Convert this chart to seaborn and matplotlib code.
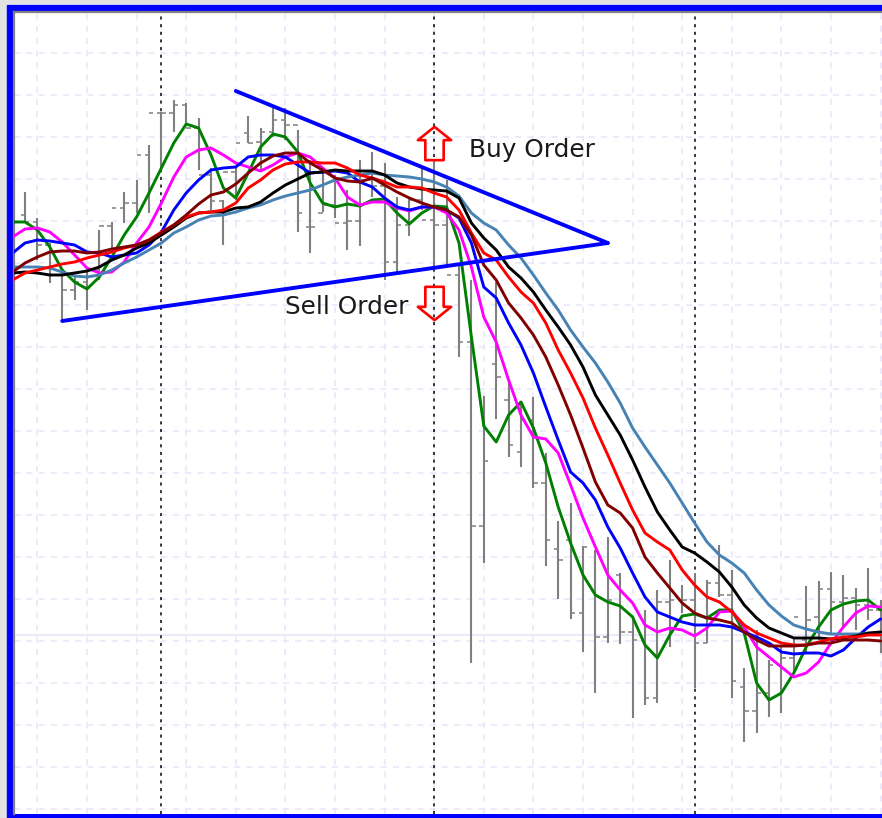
import numpy as np
import pandas as pd
import matplotlib
matplotlib.use("Agg")
import matplotlib.pyplot as plt
from matplotlib.patches import Rectangle
from matplotlib.path import Path
import seaborn as sns

# OHLC bars (y axis runs downward like the screenshot)
bar_high = [192, 218, 243, 273, 277, 270, 230, 222, 192, 180, 145, 112, 100, 103, 118, 168, 200, 168, 116, 128,
            108, 108, 130, 160, 173, 175, 190, 160, 152, 163, 197, 198, 169, 160, 180, 263, 280, 396, 282, 380,
            403, 397, 453, 521, 503, 546, 550, 537, 573, 617, 610, 590, 560, 585, 573, 580, 545, 570, 668, 630,
            660, 647, 637, 586, 581, 572, 575, 588, 568, 600]
bar_low = [222, 260, 283, 320, 300, 310, 280, 253, 223, 213, 213, 170, 132, 123, 170, 210, 245, 200, 143, 170,
           137, 140, 232, 253, 212, 218, 250, 246, 197, 280, 273, 236, 210, 267, 267, 357, 663, 563, 419, 457,
           467, 488, 566, 599, 619, 652, 693, 643, 644, 718, 705, 703, 647, 613, 688, 643, 597, 698, 742, 733,
           717, 713, 673, 653, 640, 633, 627, 630, 620, 653]
bar_open = [215, 222, 245, 275, 290, 282, 270, 226, 208, 203, 155, 113, 113, 105, 128, 175, 201, 172, 133, 142,
            132, 120, 125, 227, 213, 205, 223, 221, 180, 186, 262, 225, 200, 220, 225, 275, 342, 526, 364, 400,
            452, 420, 483, 549, 540, 613, 590, 637, 575, 632, 640, 698, 602, 600, 600, 643, 583, 595, 687, 711,
            693, 665, 658, 640, 617, 589, 602, 598, 605, 610]
bar_close = [222, 245, 275, 290, 282, 270, 226, 208, 203, 155, 113, 113, 105, 128, 175, 201, 172, 143, 143, 132,
             120, 125, 213, 227, 205, 223, 221, 180, 186, 262, 225, 200, 220, 225, 275, 342, 526, 461, 377, 445,
             420, 483, 540, 560, 613, 547, 637, 600, 632, 640, 698, 602, 600, 600, 643, 583, 595, 681, 711, 693,
             665, 658, 617, 620, 589, 602, 598, 605, 610, 625]

# moving averages, index -1 is the point behind the left frame
ma_green = [222, 222, 230, 247, 270, 282, 289, 277, 257, 235, 217, 193, 168, 143, 124, 128, 155, 188, 198, 173,
            147, 134, 137, 152, 183, 203, 207, 204, 206, 200, 199, 213, 224, 213, 206, 207, 243, 337, 426, 442,
            415, 402, 428, 463, 507, 543, 575, 595, 602, 606, 617, 645, 658, 635, 616, 614, 618, 610, 610, 633,
            683, 700, 693, 673, 647, 627, 610, 604, 601, 600, 610]
ma_magenta = [237, 229, 228, 232, 242, 255, 268, 273, 272, 262, 243, 227, 203, 177, 157, 150, 148, 155, 163, 167,
              171, 165, 157, 153, 157, 168, 178, 197, 205, 202, 202, 208, 211, 207, 207, 213, 230, 267, 317, 342,
              380, 415, 437, 439, 453, 485, 518, 547, 575, 590, 603, 625, 632, 628, 630, 636, 628, 612, 611, 627,
              647, 657, 667, 677, 673, 662, 643, 627, 613, 606, 607]
ma_blue = [253, 243, 240, 241, 243, 245, 252, 253, 257, 255, 253, 245, 232, 210, 193, 180, 170, 168, 167, 157,
           155, 155, 157, 165, 173, 172, 171, 173, 182, 187, 198, 207, 210, 207, 207, 210, 218, 243, 287, 298,
           323, 345, 373, 407, 440, 472, 483, 500, 527, 548, 573, 597, 612, 617, 622, 625, 625, 625, 627, 632,
           637, 643, 652, 654, 653, 653, 656, 650, 638, 627, 619]
ma_maroon = [272, 263, 257, 252, 251, 251, 253, 252, 249, 247, 245, 240, 233, 225, 215, 204, 195, 192, 184, 173,
             163, 156, 153, 153, 163, 170, 178, 181, 182, 178, 185, 192, 198, 203, 207, 210, 217, 235, 265, 280,
             303, 318, 335, 357, 385, 415, 448, 482, 505, 513, 528, 557, 573, 588, 603, 613, 618, 620, 623, 632,
             640, 646, 646, 646, 645, 643, 643, 640, 640, 640, 641]
ma_red = [280, 273, 270, 267, 264, 262, 258, 255, 252, 248, 245, 240, 232, 225, 217, 213, 212, 210, 203, 188,
          180, 170, 164, 162, 162, 163, 163, 168, 175, 178, 182, 187, 187, 188, 193, 197, 210, 233, 253, 260,
          277, 292, 303, 323, 350, 373, 398, 428, 455, 483, 510, 533, 542, 550, 570, 585, 597, 602, 612, 625,
          633, 638, 643, 645, 645, 642, 639, 637, 637, 635, 635]
ma_black = [273, 272, 273, 275, 275, 273, 271, 267, 260, 255, 248, 243, 235, 227, 218, 213, 212, 212, 208, 207,
            202, 193, 185, 179, 173, 172, 170, 171, 171, 171, 175, 183, 187, 189, 190, 191, 198, 223, 238, 250,
            267, 278, 292, 310, 327, 345, 367, 395, 415, 435, 460, 487, 512, 530, 547, 553, 562, 572, 587, 605,
            618, 628, 633, 638, 638, 638, 639, 638, 636, 633, 632]
ma_steel = [267, 267, 267, 268, 272, 276, 277, 275, 270, 263, 257, 250, 243, 233, 227, 220, 216, 215, 212, 208,
            205, 200, 196, 193, 190, 185, 180, 177, 175, 173, 175, 176, 177, 179, 182, 187, 196, 213, 223, 230,
            245, 258, 275, 293, 310, 330, 347, 363, 382, 403, 428, 447, 465, 483, 503, 523, 542, 555, 563, 573,
            590, 605, 616, 625, 629, 632, 634, 634, 634, 634, 634]

ma_names = ["green", "magenta", "blue", "steel", "black", "red", "maroon"]
ma_values = [ma_green, ma_magenta, ma_blue, ma_steel, ma_black, ma_red, ma_maroon]
ma_colors = ["#008000", "#ff00ff", "#0000ff", "#4682b4", "#000000", "#ff0000", "#800000"]

session_bars = [11, 33, 54]
grid_bars = list(range(1, 70, 4))
grid_levels = list(range(11, 810, 42))
center_level = 635

trend_bars = [17, 47, 3]
trend_values = [91, 243, 321]

arrow_bar = 33
buy_level = 143
sell_level = 303

sns.set_style("white")
plt.rcParams['font.family'] = ['DejaVu Sans']

W, H = 882, 818
fig = plt.figure(figsize=(W / 100, H / 100), dpi=100, facecolor="#e2e2e2")

# blue frame, sits behind the axes
fig.add_artist(Rectangle((2 / W, 0), 1, 1 - 3.5 / H, transform=fig.transFigure, color="#f4f4f4", zorder=-3))
fig.add_artist(Rectangle((0, 0), 7 / W, 1, transform=fig.transFigure, color="#e2e2e2", zorder=-2))
fig.add_artist(Rectangle((7 / W, 0), 1, 1 - 5 / H, transform=fig.transFigure, color="#0000ff", zorder=-1))

ax = fig.add_axes([14 / W, 4 / H, (W - 14) / W, (H - 4 - 11.5) / H])
ax.set_facecolor("white")
ax.set_xlim((14 - 25) / 12.4, (W - 25) / 12.4)
ax.set_ylim(814, 11.5)

ax.set_xticks(grid_bars)
ax.set_yticks(grid_levels)
ax.set_xticklabels([])
ax.set_yticklabels([])
ax.tick_params(length=0)
ax.grid(True, color="#e6e6fa", linestyle=(0, (4, 4)), linewidth=1.1)
ax.set_axisbelow(True)
for side in ["right", "bottom"]:
    ax.spines[side].set_visible(False)
for side in ["left", "top"]:
    ax.spines[side].set_color("#808080")
    ax.spines[side].set_linewidth(1.6)

ax.axhline(center_level, color="#e6e6fa", linewidth=1.2, zorder=1)
for b in session_bars:
    ax.axvline(b, color="black", linestyle=(0, (2, 3)), linewidth=1.1, zorder=1.5)

# price bars
bars = np.arange(len(bar_high))
ax.vlines(bars, bar_high, bar_low, color="#808080", linewidth=1.5, zorder=2)
ax.hlines(bar_open, bars - 0.36, bars, color="#808080", linewidth=1.1, zorder=2)
ax.hlines(bar_close, bars, bars + 0.36, color="#808080", linewidth=1.1, zorder=2)

# moving averages
frames = []
for name, vals in zip(ma_names, ma_values):
    frames.append(pd.DataFrame({"bar": np.arange(-1, len(vals) - 1), "value": vals, "ma": name}))
df = pd.concat(frames)
sns.lineplot(data=df, x="bar", y="value", hue="ma", hue_order=ma_names, palette=ma_colors,
             estimator=None, sort=False, linewidth=2.1, legend=False, ax=ax, zorder=3)
ax.set_xlabel("")
ax.set_ylabel("")
ax.set_xlim((14 - 25) / 12.4, (W - 25) / 12.4)
ax.set_ylim(814, 11.5)

# triangle
ax.plot(trend_bars[:2], trend_values[:2], color="#0000ff", linewidth=2.8, zorder=4, solid_capstyle="round")
ax.plot(trend_bars[1:], trend_values[1:], color="#0000ff", linewidth=2.8, zorder=4, solid_capstyle="round")

# hollow arrows, drawn as markers so they stay a fixed size
up_verts = [(0, 1), (1, 0.2), (0.55, 0.2), (0.55, -1), (-0.55, -1), (-0.55, 0.2), (-1, 0.2), (0, 1)]
up_arrow = Path(up_verts, closed=True)
down_arrow = Path([(x, -y) for x, y in up_verts], closed=True)
ax.plot([arrow_bar], [buy_level], marker=up_arrow, markersize=24, markerfacecolor="none",
        markeredgecolor="#ff0000", markeredgewidth=1.9, zorder=5)
ax.plot([arrow_bar], [sell_level], marker=down_arrow, markersize=24, markerfacecolor="none",
        markeredgecolor="#ff0000", markeredgewidth=1.9, zorder=5)

ax.text(35.8, 150, "Buy Order", fontsize=17.8, color="#1a1a1a", va="center", ha="left", zorder=6)
ax.text(30.9, 307, "Sell Order", fontsize=17.8, color="#1a1a1a", va="center", ha="right", zorder=6)

plt.savefig("out.png", dpi=100, facecolor=fig.get_facecolor())
plt.close()
